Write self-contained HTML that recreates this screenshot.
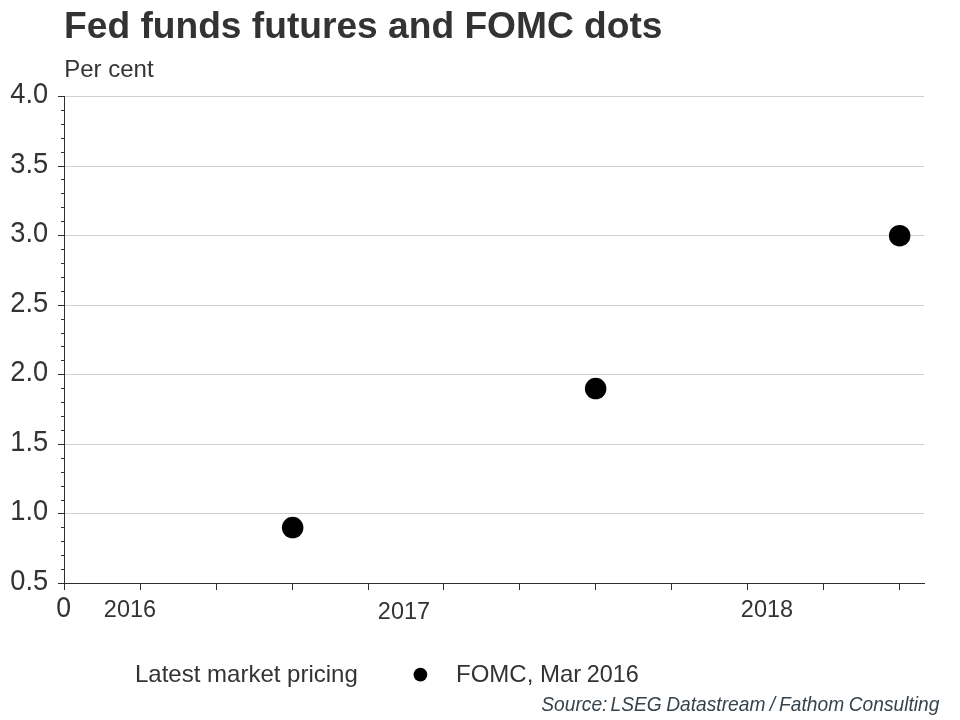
<!DOCTYPE html>
<html>
<head>
<meta charset="utf-8">
<title>Fed funds futures and FOMC dots</title>
<style>
html,body{margin:0;padding:0;background:#fff;}
body{width:960px;height:720px;overflow:hidden;position:relative;font-family:"Liberation Sans",sans-serif;color:#333;}
svg{position:absolute;left:0;top:0;display:block;}
</style>
</head>
<body>
<svg width="960" height="720" viewBox="0 0 960 720" font-family="Liberation Sans, sans-serif">
  <rect width="960" height="720" fill="#fff"/>
  <!-- gridlines -->
  <g stroke="#cfcfcf" stroke-width="1" shape-rendering="crispEdges">
    <line x1="65" x2="924" y1="96.5" y2="96.5"/>
    <line x1="65" x2="924" y1="166.5" y2="166.5"/>
    <line x1="65" x2="924" y1="235.5" y2="235.5"/>
    <line x1="65" x2="924" y1="305.5" y2="305.5"/>
    <line x1="65" x2="924" y1="374.5" y2="374.5"/>
    <line x1="65" x2="924" y1="444.5" y2="444.5"/>
    <line x1="65" x2="924" y1="513.5" y2="513.5"/>
  </g>
  <!-- axes -->
  <g stroke="#2e2e2e" stroke-width="1" shape-rendering="crispEdges">
    <line x1="64.5" x2="64.5" y1="96" y2="590"/>
    <line x1="58" x2="925" y1="583.5" y2="583.5"/>
  </g>
  <!-- ticks -->
  <g stroke="#2e2e2e" stroke-width="1" shape-rendering="crispEdges">
    <line x1="58" x2="65" y1="96.5" y2="96.5"/>
    <line x1="61" x2="65" y1="110.5" y2="110.5"/>
    <line x1="61" x2="65" y1="124.5" y2="124.5"/>
    <line x1="61" x2="65" y1="138.5" y2="138.5"/>
    <line x1="61" x2="65" y1="152.5" y2="152.5"/>
    <line x1="58" x2="65" y1="166.5" y2="166.5"/>
    <line x1="61" x2="65" y1="179.5" y2="179.5"/>
    <line x1="61" x2="65" y1="193.5" y2="193.5"/>
    <line x1="61" x2="65" y1="207.5" y2="207.5"/>
    <line x1="61" x2="65" y1="221.5" y2="221.5"/>
    <line x1="58" x2="65" y1="235.5" y2="235.5"/>
    <line x1="61" x2="65" y1="249.5" y2="249.5"/>
    <line x1="61" x2="65" y1="263.5" y2="263.5"/>
    <line x1="61" x2="65" y1="277.5" y2="277.5"/>
    <line x1="61" x2="65" y1="291.5" y2="291.5"/>
    <line x1="58" x2="65" y1="305.5" y2="305.5"/>
    <line x1="61" x2="65" y1="319.5" y2="319.5"/>
    <line x1="61" x2="65" y1="333.5" y2="333.5"/>
    <line x1="61" x2="65" y1="346.5" y2="346.5"/>
    <line x1="61" x2="65" y1="360.5" y2="360.5"/>
    <line x1="58" x2="65" y1="374.5" y2="374.5"/>
    <line x1="61" x2="65" y1="388.5" y2="388.5"/>
    <line x1="61" x2="65" y1="402.5" y2="402.5"/>
    <line x1="61" x2="65" y1="416.5" y2="416.5"/>
    <line x1="61" x2="65" y1="430.5" y2="430.5"/>
    <line x1="58" x2="65" y1="444.5" y2="444.5"/>
    <line x1="61" x2="65" y1="458.5" y2="458.5"/>
    <line x1="61" x2="65" y1="472.5" y2="472.5"/>
    <line x1="61" x2="65" y1="486.5" y2="486.5"/>
    <line x1="61" x2="65" y1="500.5" y2="500.5"/>
    <line x1="58" x2="65" y1="513.5" y2="513.5"/>
    <line x1="61" x2="65" y1="527.5" y2="527.5"/>
    <line x1="61" x2="65" y1="541.5" y2="541.5"/>
    <line x1="61" x2="65" y1="555.5" y2="555.5"/>
    <line x1="61" x2="65" y1="569.5" y2="569.5"/>
    <line x1="58" x2="65" y1="583.5" y2="583.5"/>
    <line x1="140.5" x2="140.5" y1="583" y2="590"/>
    <line x1="216.5" x2="216.5" y1="583" y2="590"/>
    <line x1="292.5" x2="292.5" y1="583" y2="590"/>
    <line x1="368.5" x2="368.5" y1="583" y2="590"/>
    <line x1="443.5" x2="443.5" y1="583" y2="590"/>
    <line x1="519.5" x2="519.5" y1="583" y2="590"/>
    <line x1="595.5" x2="595.5" y1="583" y2="590"/>
    <line x1="671.5" x2="671.5" y1="583" y2="590"/>
    <line x1="747.5" x2="747.5" y1="583" y2="590"/>
    <line x1="823.5" x2="823.5" y1="583" y2="590"/>
    <line x1="899.5" x2="899.5" y1="583" y2="590"/>
  </g>
  <!-- dots -->
  <g fill="#000">
    <circle cx="292.65" cy="527.6" r="10.75"/>
    <circle cx="595.65" cy="388.6" r="10.75"/>
    <circle cx="899.65" cy="235.7" r="10.75"/>
    <circle cx="420.4" cy="674.6" r="6.9"/>
  </g>
  <g fill="#333">
    <text x="64.1" y="38.15" font-size="37.15" font-weight="bold">Fed funds futures and FOMC dots</text>
    <text x="64.2" y="77.2" font-size="24">Per cent</text>
    <g font-size="28" text-anchor="end">
      <text transform="translate(48.2,103) scale(0.973,1.045)">4.0</text>
      <text transform="translate(48.2,173) scale(0.973,1.045)">3.5</text>
      <text transform="translate(48.2,242) scale(0.973,1.045)">3.0</text>
      <text transform="translate(48.2,312) scale(0.973,1.045)">2.5</text>
      <text transform="translate(48.2,381) scale(0.973,1.045)">2.0</text>
      <text transform="translate(48.2,451) scale(0.973,1.045)">1.5</text>
      <text transform="translate(48.2,520) scale(0.973,1.045)">1.0</text>
      <text transform="translate(48.2,590) scale(0.973,1.045)">0.5</text>
    </g>
    <text transform="translate(63.6,617) scale(0.95,1.045)" font-size="28" text-anchor="middle">0</text>
    <g font-size="24" text-anchor="middle">
      <text transform="translate(129.95,616.9) scale(0.978,1)">2016</text>
      <text transform="translate(403.95,618.9) scale(0.978,1)">2017</text>
      <text transform="translate(766.95,616.9) scale(0.978,1)">2018</text>
    </g>
    <text x="135" y="681.5" font-size="24">Latest market pricing</text>
    <text x="456" y="681.5" font-size="24">FOMC, Mar</text>
    <text transform="translate(586.8,681.5) scale(0.975,1)" font-size="24">2016</text>
    <text transform="translate(0,710.8) scale(1,1.08)" y="0" font-size="19.2" font-style="italic" fill="#36434b"><tspan x="541.3">Source:</tspan> <tspan x="610.6">LSEG</tspan> <tspan x="666.2">Datastream</tspan> <tspan x="769.7">/</tspan> <tspan x="779.1">Fathom</tspan> <tspan x="848.7">Consulting</tspan></text>
  </g>
</svg>
</body>
</html>
